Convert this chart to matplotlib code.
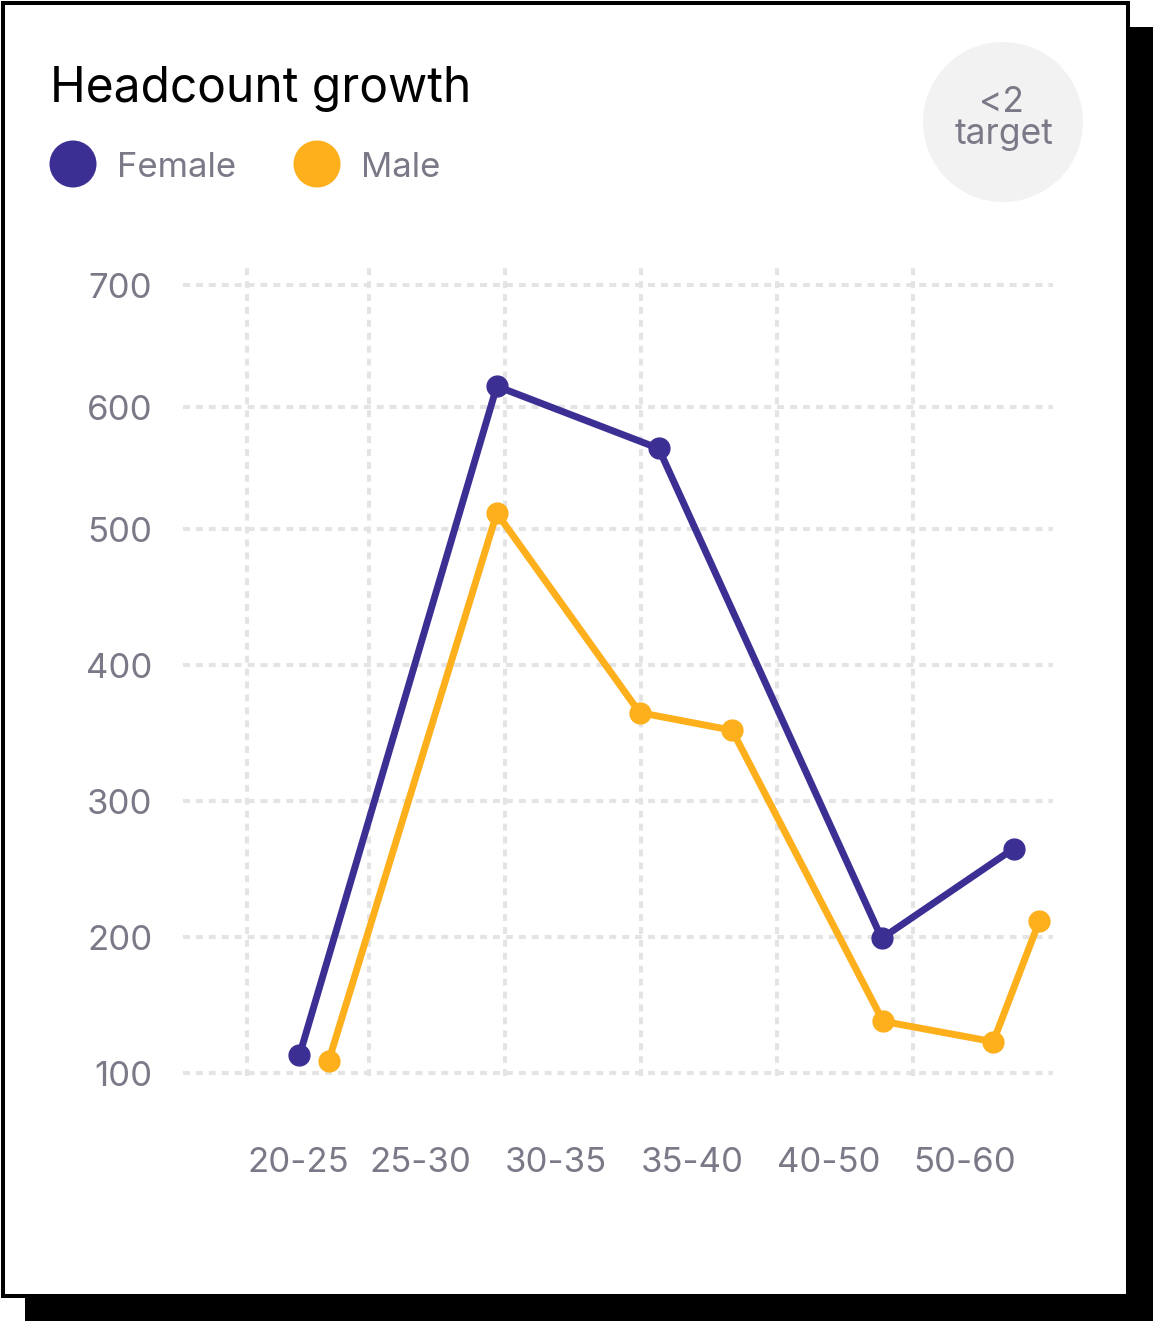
import numpy as np
import matplotlib
matplotlib.use("Agg")
import matplotlib.pyplot as plt
from matplotlib.patches import Rectangle, Circle
from matplotlib.scale import FuncScale

plt.rcParams['font.family'] = ['Inter', 'DejaVu Sans']
plt.rcParams['lines.scale_dashes'] = False

# data
age_groups = ['20-25', '25-30', '30-35', '35-40', '40-50', '50-60']
y_ticks = [100, 200, 300, 400, 500, 600, 700]

# x given in age-group units (0 = start of 20-25 band)
female_x = [0.43, 1.94, 3.13, 4.77, 5.74]
female_y = [113, 617, 566, 199, 265]
male_x = [0.67, 1.94, 2.99, 3.67, 4.78, 5.59, 5.93]
male_y = [109, 513, 365, 352, 138, 123, 212]

PURPLE = '#3c2f94'
AMBER = '#fdb01c'
GREY = '#7b7987'
W, H = 1153, 1321

# the grid in the original is not evenly spaced, so map it piecewise
x_break_px = [247, 369, 505, 641, 777, 913]
y_break_px = [1073, 937, 801, 665, 529, 407, 285]


def piecewise(xp, fp):
    xp = np.asarray(xp, float)
    fp = np.asarray(fp, float)

    def f(v):
        v = np.asarray(v, float)
        out = np.interp(v, xp, fp)
        lo = fp[0] + (v - xp[0]) * (fp[1] - fp[0]) / (xp[1] - xp[0])
        hi = fp[-1] + (v - xp[-1]) * (fp[-1] - fp[-2]) / (xp[-1] - xp[-2])
        return np.where(v < xp[0], lo, np.where(v > xp[-1], hi, out))
    return f


x_fwd = piecewise(range(len(age_groups)), x_break_px)
x_inv = piecewise(x_break_px, range(len(age_groups)))
y_fwd = piecewise(y_ticks, [-p for p in y_break_px])
y_inv = piecewise([-p for p in y_break_px], y_ticks)

fig = plt.figure(figsize=(W / 100, H / 100), dpi=100)

# background layer in pixel units for the card, legend and badge
bg = fig.add_axes([0, 0, 1, 1], zorder=0)
bg.set_xlim(0, W)
bg.set_ylim(H, 0)
bg.axis('off')
bg.add_patch(Rectangle((25, 27), W - 25, H - 27, color='black', lw=0))
bg.add_patch(Rectangle((3, 3), 1125, 1293, facecolor='white',
                       edgecolor='black', lw=2.9))

bg.text(50, 102, 'Headcount growth', fontsize=34.5, color='black',
        va='baseline', ha='left')
for cx, tx, label, col in [(73, 117, 'Female', PURPLE), (317, 361, 'Male', AMBER)]:
    bg.add_patch(Circle((cx, 164), 23.5, color=col, lw=0))
    bg.text(tx, 177, label, fontsize=25, color=GREY, va='baseline', ha='left')

bg.add_patch(Circle((1003, 122), 80, color='#f2f2f2', lw=0))
bg.text(1001, 112, '<2', fontsize=25.5, color=GREY, ha='center', va='baseline')
bg.text(1004, 144, 'target', fontsize=25.5, color=GREY, ha='center', va='baseline')

# chart
ax = fig.add_axes([183 / W, 1 - 1076 / H, (1053 - 183) / W, (1076 - 265) / H],
                  zorder=1)
ax.patch.set_alpha(0)
ax.set_xscale(FuncScale(ax, (x_fwd, x_inv)))
ax.set_yscale(FuncScale(ax, (y_fwd, y_inv)))
ax.set_xlim(float(x_inv(183)), float(x_inv(1053)))
ax.set_ylim(float(y_inv(-1076)), float(y_inv(-265)))

ax.plot(male_x, male_y, color=AMBER, lw=5, marker='o', markersize=15,
        solid_joinstyle='round', zorder=3)
ax.plot(female_x, female_y, color=PURPLE, lw=5, marker='o', markersize=15,
        solid_joinstyle='round', zorder=4)

ax.set_xticks(range(len(age_groups)))
ax.set_xticklabels(age_groups, ha='left')
ax.set_yticks(y_ticks)
ax.set_yticklabels([str(v) for v in y_ticks])
ax.tick_params(length=0, labelsize=25, labelcolor=GREY)
ax.tick_params(axis='x', pad=51)
ax.tick_params(axis='y', pad=22)
ax.grid(True, color='#e4e4e4', lw=2.9, linestyle=(0, (5.0, 4.3)))
for s in ax.spines.values():
    s.set_visible(False)

fig.savefig('out.png', dpi=100)
